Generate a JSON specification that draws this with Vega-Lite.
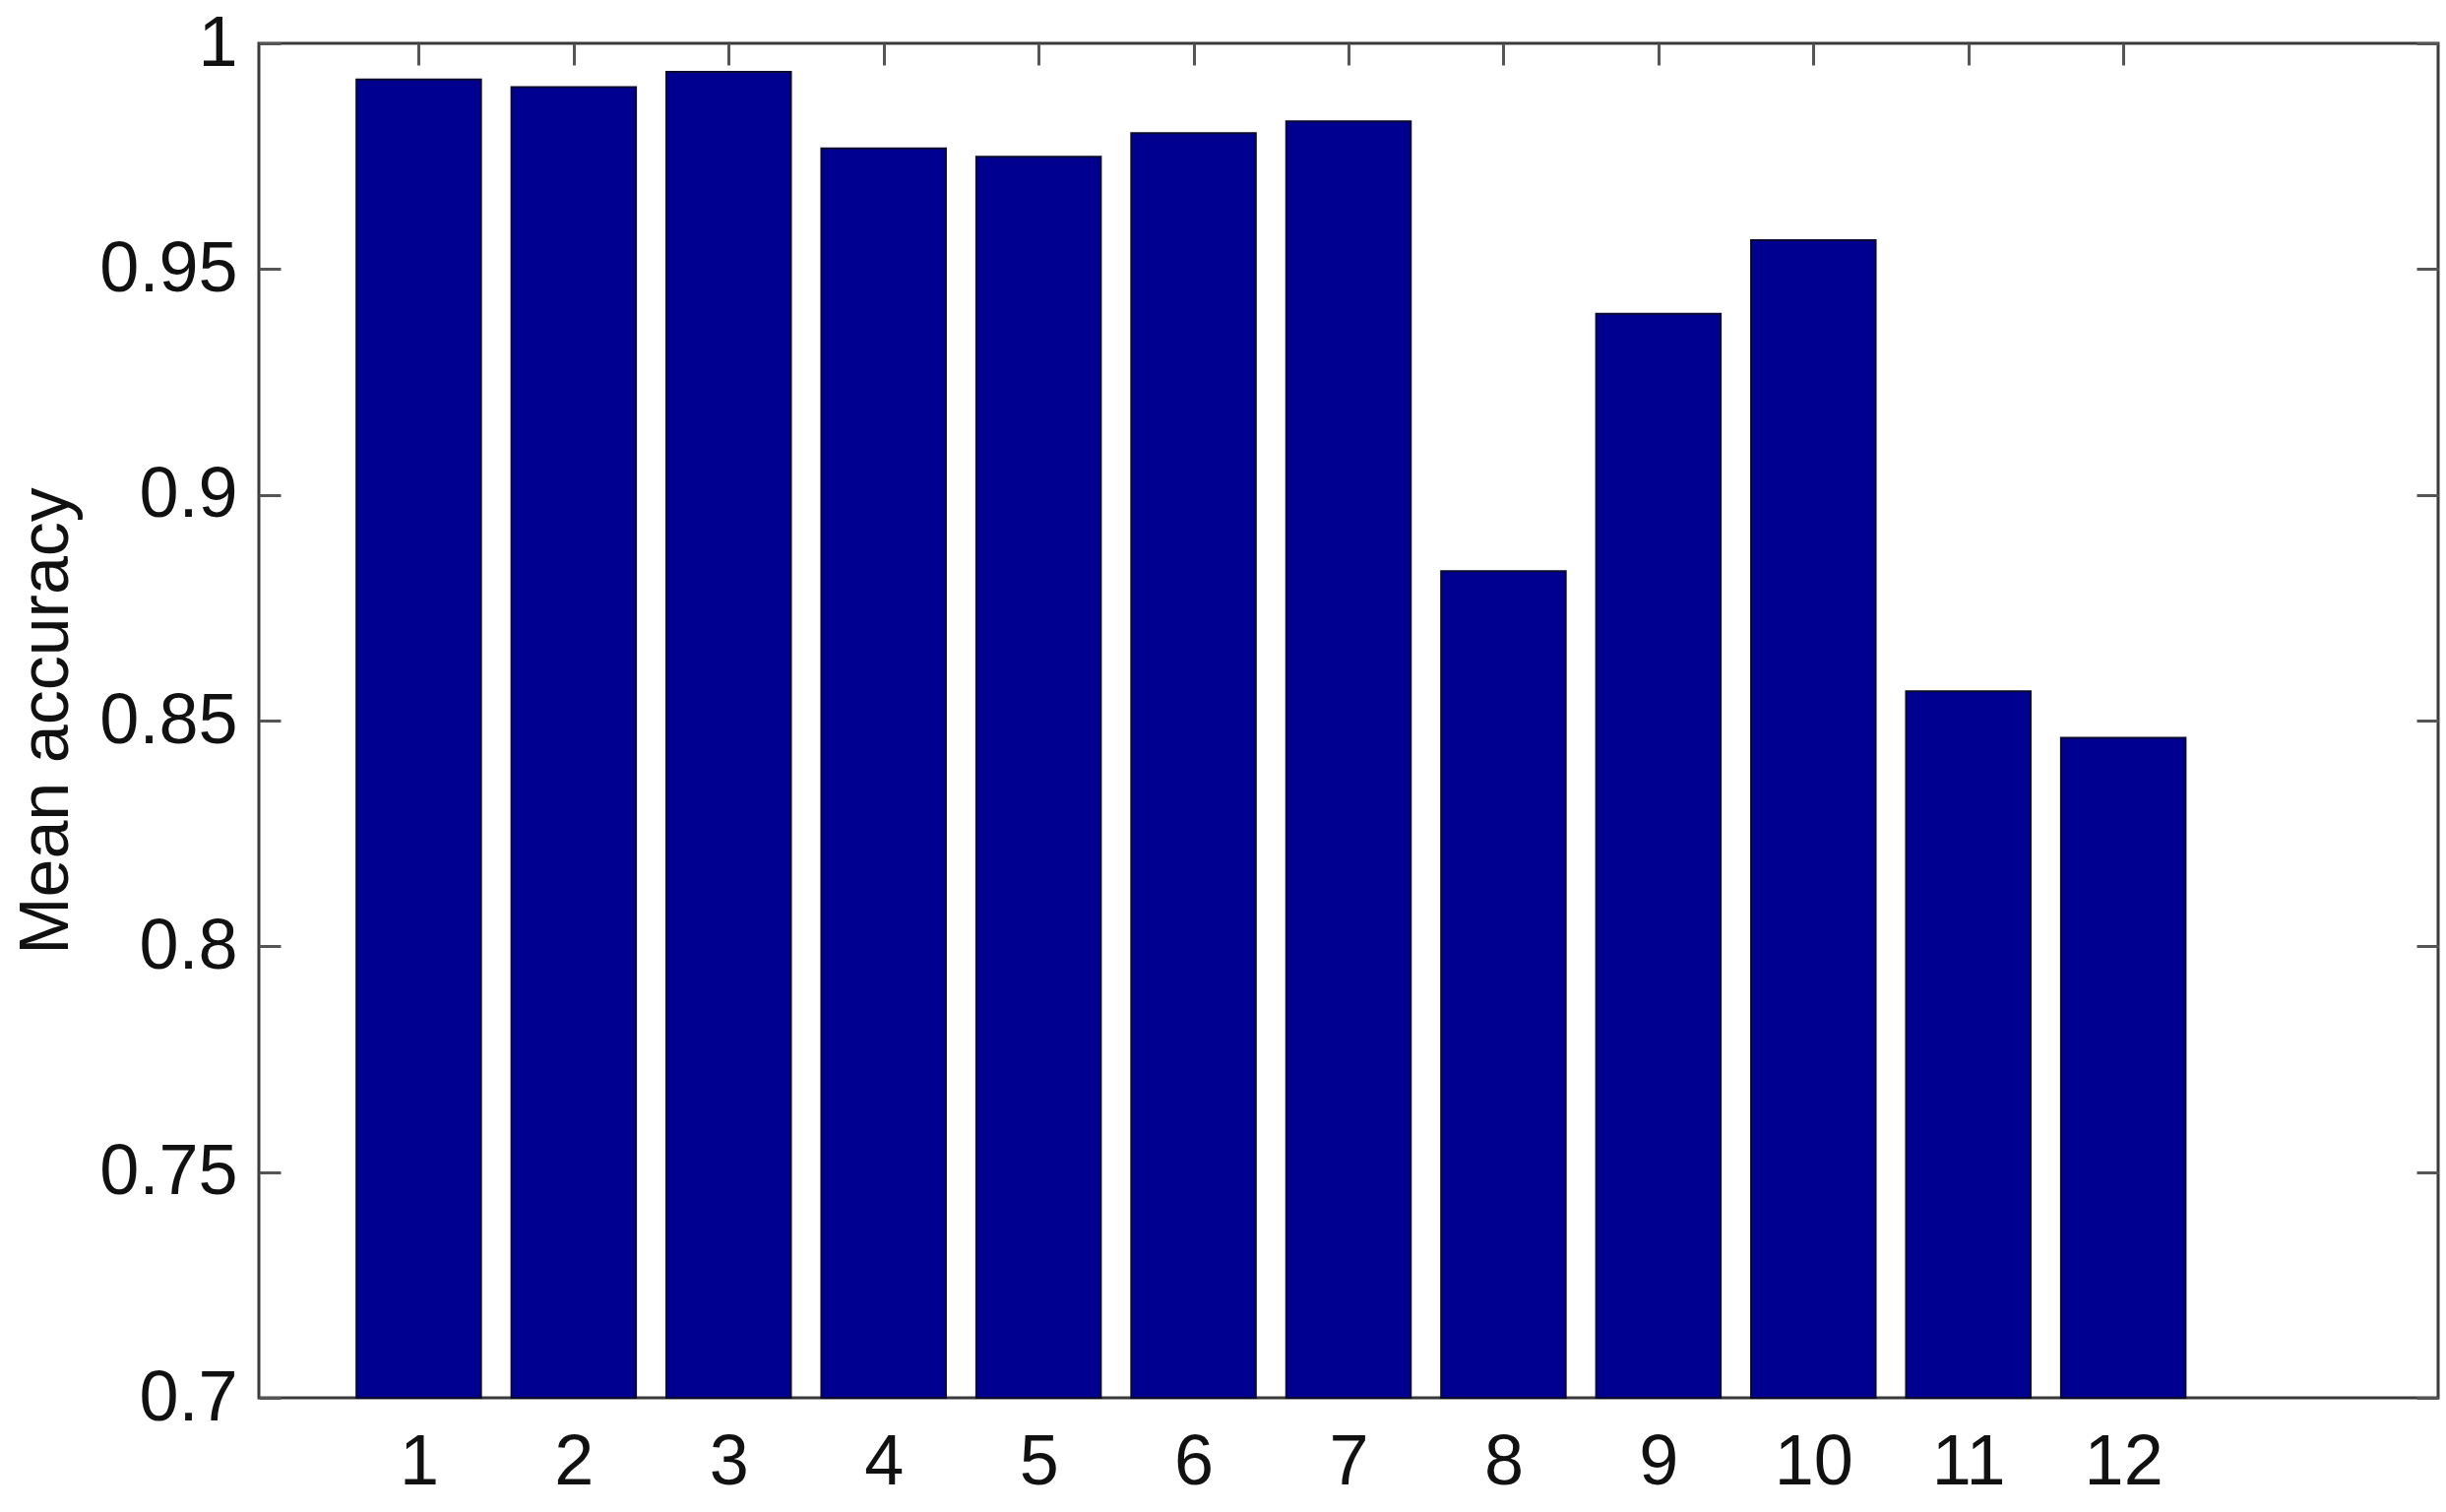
{
  "$schema": "https://vega.github.io/schema/vega-lite/v6.json",
  "autosize": {"type": "none"},
  "padding": {"left": 263, "top": 44, "right": 8, "bottom": 116},
  "width": 2214,
  "height": 1376,
  "background": "white",
  "data": {
    "values": [
      {"k": 1, "acc": 0.992},
      {"k": 2, "acc": 0.9903},
      {"k": 3, "acc": 0.9937},
      {"k": 4, "acc": 0.9767},
      {"k": 5, "acc": 0.9749},
      {"k": 6, "acc": 0.9801},
      {"k": 7, "acc": 0.9827},
      {"k": 8, "acc": 0.8831},
      {"k": 9, "acc": 0.9401},
      {"k": 10, "acc": 0.9564},
      {"k": 11, "acc": 0.8565},
      {"k": 12, "acc": 0.8462}
    ]
  },
  "layer": [
    {
      "mark": {"type": "bar", "width": 126.5, "fill": "#000090", "stroke": "#0a0a30", "strokeWidth": 2},
      "encoding": {
        "x": {
          "field": "k", "type": "quantitative",
          "scale": {"domain": [0, 14], "nice": false, "zero": false},
          "axis": {"orient": "bottom", "values": [1,2,3,4,5,6,7,8,9,10,11,12], "format": "d", "title": null, "ticks": false, "labelPadding": 30, "labelBaseline": "top"}
        },
        "y": {
          "field": "acc", "type": "quantitative",
          "scale": {"domain": [0.7, 1], "nice": false, "zero": false},
          "axis": {"orient": "left", "values": [0.7,0.75,0.8,0.85,0.9,0.95,1], "format": "~g", "ticks": false, "labelPadding": 22,
                   "title": "Mean accuracy", "titleX": -195, "titleY": 688, "titleAngle": -90, "titleAlign": "center", "titleBaseline": "alphabetic"}
        },
        "y2": {"datum": 0.7}
      }
    },
    {
      "mark": {"type": "bar", "width": 126.5, "opacity": 0},
      "encoding": {
        "x": {
          "field": "k", "type": "quantitative",
          "scale": {"domain": [0, 14], "nice": false, "zero": false},
          "axis": {"orient": "top", "values": [1,2,3,4,5,6,7,8,9,10,11,12], "labels": false, "title": null, "tickSize": -22}
        },
        "y": {
          "field": "acc", "type": "quantitative",
          "scale": {"domain": [0.7, 1], "nice": false, "zero": false},
          "axis": {"orient": "right", "values": [0.7,0.75,0.8,0.85,0.9,0.95,1], "labels": false, "title": null, "tickSize": -22}
        },
        "y2": {"datum": 0.7}
      }
    },
    {
      "mark": {"type": "bar", "width": 126.5, "opacity": 0},
      "encoding": {
        "x": {
          "field": "k", "type": "quantitative",
          "scale": {"domain": [0, 14], "nice": false, "zero": false},
          "axis": {"orient": "bottom", "values": [1,2,3,4,5,6,7,8,9,10,11,12], "labels": false, "title": null, "tickSize": -22}
        },
        "y": {
          "field": "acc", "type": "quantitative",
          "scale": {"domain": [0.7, 1], "nice": false, "zero": false},
          "axis": {"orient": "left", "values": [0.7,0.75,0.8,0.85,0.9,0.95,1], "labels": false, "title": null, "tickSize": -22}
        },
        "y2": {"datum": 0.7}
      }
    }
  ],
  "resolve": {"axis": {"x": "independent", "y": "independent"}},
  "config": {
    "view": {"stroke": "#3a3a3a", "strokeWidth": 3},
    "axis": {
      "domain": false,
      "grid": false,
      "tickColor": "#555555",
      "tickWidth": 3,
      "labelFont": "Liberation Sans",
      "labelFontSize": 72,
      "labelColor": "#111111",
      "titleFont": "Liberation Sans",
      "titleFontSize": 70,
      "titleFontWeight": "normal",
      "titleColor": "#111111"
    }
  }
}
